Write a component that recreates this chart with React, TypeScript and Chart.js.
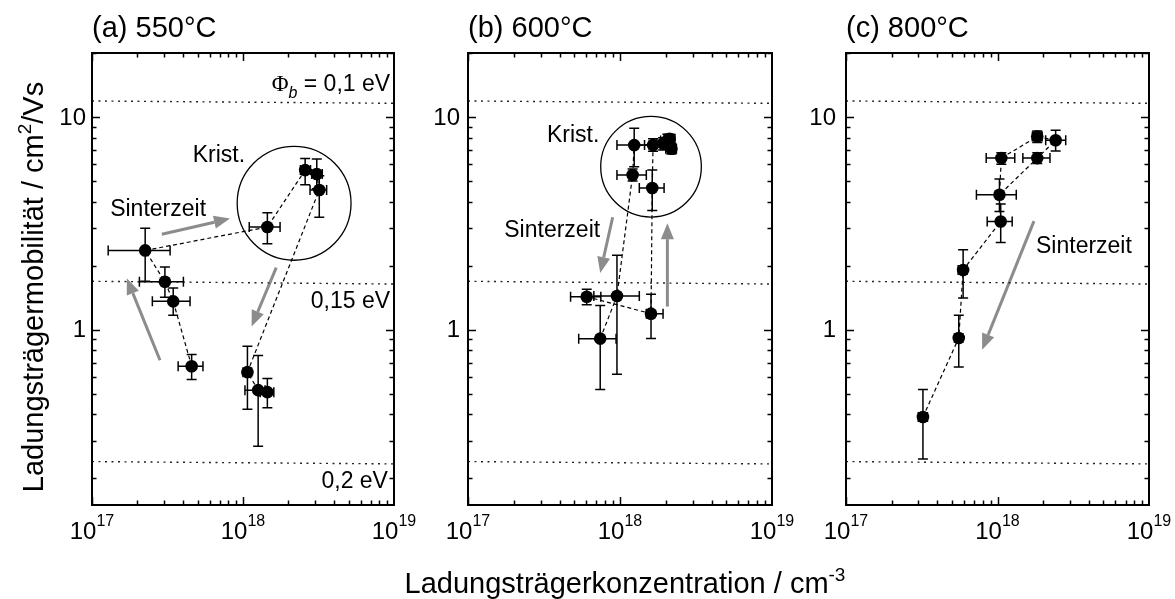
import React, { useEffect, useRef } from 'react';
import { Chart, registerables } from 'chart.js';
Chart.register(...registerables);

const W = 1175;
const H = 599;
const SANS = '"Liberation Sans", Arial, Helvetica, sans-serif';
const SERIF = '"Liberation Serif", "Times New Roman", serif';

// ---------- axes ----------
const X_MIN = 1e17;
const X_MAX = 1e19;
const Y_MIN = 0.15;
const Y_MAX = 20;
const X_MAJOR = [1e17, 1e18, 1e19];
const X_MAJOR_EXP = ['17', '18', '19'];
const Y_MAJOR = [1, 10];
const Y_MAJOR_LABELS = ['1', '10'];

// ---------- barrier height reference lines (Φb = 0.1, 0.15, 0.2 eV) ----------
const BARRIER_X = [1e17, 1e19];
const BARRIER_Y_START = [11.9, 1.69, 0.24];
const BARRIER_Y_END = [11.6, 1.64, 0.234];

// ---------- (a) 550°C ----------
const A_X = [4.57e17, 3.45e17, 3.04e17, 2.25e17, 1.45e18, 2.58e18, 3.08e18, 3.2e18, 1.07e18, 1.26e18, 1.45e18];
const A_Y = [0.674, 1.36, 1.68, 2.36, 3.04, 5.63, 5.4, 4.54, 0.632, 0.52, 0.509];
const A_XLO = [3.72e17, 2.51e17, 2.06e17, 1.28e17, 1.1e18, 2.4e18, 2.85e18, 2.78e18, 1.0e18, 1.03e18, 1.3e18];
const A_XHI = [5.43e17, 4.46e17, 4.03e17, 3.29e17, 1.76e18, 2.8e18, 3.35e18, 3.58e18, 1.14e18, 1.4e18, 1.6e18];
const A_YLO = [0.584, 1.17, 1.42, 1.69, 2.54, 4.81, 4.6, 3.38, 0.423, 0.283, 0.43];
const A_YHI = [0.764, 1.57, 1.97, 3.0, 3.55, 6.38, 6.35, 5.3, 0.836, 0.756, 0.59];
const A_PATH = [0, 1, 2, 3, 4, 5, 6, 7, 8, 9, 10];
const A_ARROWS = [
  [2.9e17, 2.81, 8.2e17, 3.33],
  [2.82e17, 0.719, 1.7e17, 1.745],
  [1.66e18, 1.96, 1.14e18, 1.036],
];

// ---------- (b) 600°C ----------
const B_X = [7.41e17, 9.55e17, 1.21e18, 1.24e18, 1.65e18, 1.92e18, 2.05e18, 2.12e18, 2.18e18, 6.04e17, 1.6e18, 1.63e18];
const B_Y = [0.908, 1.44, 5.34, 7.38, 7.38, 7.5, 7.75, 7.9, 7.1, 1.43, 1.19, 4.64];
const B_XLO = [5.35e17, 6.73e17, 9.55e17, 9.55e17, 1.45e18, 1.75e18, 1.85e18, 1.95e18, 2.0e18, 4.73e17, 1.49e18, 1.34e18];
const B_XHI = [9.42e17, 1.34e18, 1.49e18, 1.56e18, 1.85e18, 2.1e18, 2.25e18, 2.3e18, 2.35e18, 7.48e17, 1.92e18, 1.95e18];
const B_YLO = [0.524, 0.617, 5.0, 5.84, 6.9, 7.0, 7.3, 7.5, 6.7, 1.31, 0.91, 3.64];
const B_YHI = [1.3, 2.24, 5.7, 8.85, 7.9, 8.0, 8.3, 8.3, 7.5, 1.55, 1.47, 5.63];
const B_PATH = [0, 1, 2, 3, 4, 5, 6, 7, 8, -1, 9, 10, 11, 4];
const B_ARROWS = [
  [8.95e17, 3.38, 7.41e17, 1.85],
  [2.05e18, 1.285, 2.05e18, 3.17],
];

// ---------- (c) 800°C ----------
const C_X = [3.22e17, 5.55e17, 5.93e17, 1.05e18, 1.03e18, 1.06e18, 1.83e18, 1.83e18, 2.42e18];
const C_Y = [0.389, 0.914, 1.91, 3.23, 4.31, 6.41, 6.41, 8.09, 7.78];
const C_XLO = [3.0e17, 5.2e17, 5.5e17, 8.55e17, 7.26e17, 8.42e17, 1.47e18, 1.7e18, 2.08e18];
const C_XHI = [3.45e17, 5.9e17, 6.3e17, 1.25e18, 1.33e18, 1.3e18, 2.22e18, 1.97e18, 2.82e18];
const C_YLO = [0.247, 0.669, 1.41, 2.57, 3.6, 6.0, 6.05, 7.6, 6.93];
const C_YHI = [0.524, 1.17, 2.38, 3.9, 5.11, 6.8, 6.8, 8.6, 8.67];
const C_PATH = [0, 1, 2, 3, 4, 5, 7, 8, 6, 4];
const C_ARROWS = [[1.74e18, 3.24, 7.92e17, 0.806]];

type Txt = { t: string; x: number; y: number; align: CanvasTextAlign };
type Panel = {
  title: string;
  left: number;
  right: number;
  xs: number[];
  ys: number[];
  xlo: number[];
  xhi: number[];
  ylo: number[];
  yhi: number[];
  path: number[];
  arrows: number[][];
  circle: null | { x: number; y: number; rDec: number };
  texts: Txt[];
  yLabelGap: number;
  barrierLabels: boolean;
  global: boolean;
};

const TOP = 53;
const BOTTOM = 505;

const PANELS: Panel[] = [
  {
    title: '(a) 550°C', left: 92, right: 394,
    xs: A_X, ys: A_Y, xlo: A_XLO, xhi: A_XHI, ylo: A_YLO, yhi: A_YHI, path: A_PATH, arrows: A_ARROWS,
    circle: { x: 2.18e18, y: 3.93, rDec: 0.377 },
    texts: [
      { t: 'Krist.', x: 6.93e17, y: 6.57, align: 'center' },
      { t: 'Sinterzeit', x: 2.74e17, y: 3.68, align: 'center' },
      { t: '0,15 eV', x: 9.42e18, y: 1.35, align: 'right' },
      { t: '0,2 eV', x: 9.12e18, y: 0.193, align: 'right' },
    ],
    yLabelGap: 6, barrierLabels: true, global: true,
  },
  {
    title: '(b) 600°C', left: 468, right: 772,
    xs: B_X, ys: B_Y, xlo: B_XLO, xhi: B_XHI, ylo: B_YLO, yhi: B_YHI, path: B_PATH, arrows: B_ARROWS,
    circle: { x: 1.6e18, y: 5.84, rDec: 0.331 },
    texts: [
      { t: 'Krist.', x: 4.92e17, y: 8.15, align: 'center' },
      { t: 'Sinterzeit', x: 3.58e17, y: 2.91, align: 'center' },
    ],
    yLabelGap: 8, barrierLabels: false, global: false,
  },
  {
    title: '(c) 800°C', left: 846, right: 1149,
    xs: C_X, ys: C_Y, xlo: C_XLO, xhi: C_XHI, ylo: C_YLO, yhi: C_YHI, path: C_PATH, arrows: C_ARROWS,
    circle: null,
    texts: [{ t: 'Sinterzeit', x: 3.72e18, y: 2.47, align: 'center' }],
    yLabelGap: 10, barrierLabels: false, global: false,
  },
];

function makePlugin(p: Panel) {
  return {
    id: 'panelDecor',
    beforeDatasetsDraw(chart: any) {
      const ctx: CanvasRenderingContext2D = chart.ctx;
      const xs = chart.scales.x;
      const ys = chart.scales.y;
      ctx.save();
      if (p.circle) {
        const cx = xs.getPixelForValue(p.circle.x);
        const cy = ys.getPixelForValue(p.circle.y);
        const r = xs.getPixelForValue(p.circle.x * Math.pow(10, p.circle.rDec)) - cx;
        ctx.strokeStyle = '#000';
        ctx.lineWidth = 1.3;
        ctx.beginPath();
        ctx.arc(cx, cy, r, 0, Math.PI * 2);
        ctx.stroke();
      }
      const col = '#8c8c8c';
      for (const a of p.arrows) {
        const x0 = xs.getPixelForValue(a[0]);
        const y0 = ys.getPixelForValue(a[1]);
        const x1 = xs.getPixelForValue(a[2]);
        const y1 = ys.getPixelForValue(a[3]);
        const ang = Math.atan2(y1 - y0, x1 - x0);
        const hl = 16;
        const hw = 6.5;
        const bx = x1 - hl * Math.cos(ang);
        const by = y1 - hl * Math.sin(ang);
        ctx.strokeStyle = col;
        ctx.lineWidth = 3;
        ctx.beginPath();
        ctx.moveTo(x0, y0);
        ctx.lineTo(bx, by);
        ctx.stroke();
        ctx.fillStyle = col;
        ctx.beginPath();
        ctx.moveTo(x1, y1);
        ctx.lineTo(bx + hw * Math.sin(ang), by - hw * Math.cos(ang));
        ctx.lineTo(bx - hw * Math.sin(ang), by + hw * Math.cos(ang));
        ctx.closePath();
        ctx.fill();
      }
      ctx.restore();
    },
    beforeDatasetDraw(chart: any, args: any) {
      if (args.index !== 0) return;
      const ctx: CanvasRenderingContext2D = chart.ctx;
      const xs = chart.scales.x;
      const ys = chart.scales.y;
      const cap = 5;
      ctx.save();
      ctx.strokeStyle = '#000';
      ctx.lineWidth = 1.5;
      for (let i = 0; i < p.xs.length; i++) {
        const px = xs.getPixelForValue(p.xs[i]);
        const py = ys.getPixelForValue(p.ys[i]);
        const xl = xs.getPixelForValue(p.xlo[i]);
        const xh = xs.getPixelForValue(p.xhi[i]);
        const yl = ys.getPixelForValue(p.ylo[i]);
        const yh = ys.getPixelForValue(p.yhi[i]);
        ctx.beginPath();
        ctx.moveTo(xl, py); ctx.lineTo(xh, py);
        ctx.moveTo(xl, py - cap); ctx.lineTo(xl, py + cap);
        ctx.moveTo(xh, py - cap); ctx.lineTo(xh, py + cap);
        ctx.moveTo(px, yl); ctx.lineTo(px, yh);
        ctx.moveTo(px - cap, yl); ctx.lineTo(px + cap, yl);
        ctx.moveTo(px - cap, yh); ctx.lineTo(px + cap, yh);
        ctx.stroke();
      }
      ctx.restore();
    },
    afterDraw(chart: any) {
      const ctx: CanvasRenderingContext2D = chart.ctx;
      const xs = chart.scales.x;
      const ys = chart.scales.y;
      const a = chart.chartArea;
      ctx.save();
      // frame
      ctx.strokeStyle = '#000';
      ctx.lineWidth = 2;
      ctx.strokeRect(a.left, a.top, a.right - a.left, a.bottom - a.top);
      // inward ticks
      ctx.lineWidth = 1.5;
      ctx.beginPath();
      for (let d = 17; d <= 18; d++) {
        for (let m = 1; m <= 9; m++) {
          const v = m * Math.pow(10, d);
          const px = Math.round(xs.getPixelForValue(v)) + 0.5;
          const len = m === 1 ? 8 : 4.5;
          ctx.moveTo(px, a.bottom); ctx.lineTo(px, a.bottom - len);
          ctx.moveTo(px, a.top); ctx.lineTo(px, a.top + len);
        }
      }
      {
        const px = xs.getPixelForValue(1e19);
        ctx.moveTo(px, a.bottom); ctx.lineTo(px, a.bottom - 8);
        ctx.moveTo(px, a.top); ctx.lineTo(px, a.top + 8);
      }
      for (let d = -1; d <= 1; d++) {
        for (let m = 1; m <= 9; m++) {
          const v = m * Math.pow(10, d);
          if (v < Y_MIN || v > Y_MAX) continue;
          const py = Math.round(ys.getPixelForValue(v)) + 0.5;
          const len = m === 1 ? 8 : 4.5;
          ctx.moveTo(a.left, py); ctx.lineTo(a.left + len, py);
          ctx.moveTo(a.right, py); ctx.lineTo(a.right - len, py);
        }
      }
      ctx.stroke();
      // x tick labels 10^n
      ctx.fillStyle = '#000';
      ctx.textBaseline = 'alphabetic';
      ctx.textAlign = 'left';
      X_MAJOR.forEach((v, i) => {
        const px = xs.getPixelForValue(v);
        ctx.font = `24px ${SANS}`;
        const w1 = ctx.measureText('10').width;
        ctx.font = `16px ${SANS}`;
        const w2 = ctx.measureText(X_MAJOR_EXP[i]).width;
        const x0 = px - (w1 + w2) / 2;
        ctx.font = `24px ${SANS}`;
        ctx.fillText('10', x0, 539);
        ctx.font = `16px ${SANS}`;
        ctx.fillText(X_MAJOR_EXP[i], x0 + w1, 526);
      });
      // y tick labels
      ctx.font = `24px ${SANS}`;
      ctx.textAlign = 'right';
      ctx.textBaseline = 'middle';
      Y_MAJOR.forEach((v, i) => {
        ctx.fillText(Y_MAJOR_LABELS[i], a.left - p.yLabelGap, ys.getPixelForValue(v) + 1);
      });
      // title
      ctx.font = `29px ${SANS}`;
      ctx.textAlign = 'left';
      ctx.textBaseline = 'alphabetic';
      ctx.fillText(p.title, a.left, 37);
      // annotations
      ctx.font = `23px ${SANS}`;
      ctx.textBaseline = 'middle';
      for (const t of p.texts) {
        ctx.textAlign = t.align;
        ctx.fillText(t.t, xs.getPixelForValue(t.x), ys.getPixelForValue(t.y));
      }
      if (p.barrierLabels) {
        // Φb = 0,1 eV, right aligned
        const right = xs.getPixelForValue(9.42e18);
        const base = ys.getPixelForValue(14.4) + 8;
        ctx.textBaseline = 'alphabetic';
        ctx.textAlign = 'left';
        ctx.font = `23px ${SERIF}`;
        const wPhi = ctx.measureText('Φ').width;
        ctx.font = `italic 16px ${SANS}`;
        const wB = ctx.measureText('b').width;
        ctx.font = `23px ${SANS}`;
        const rest = ' = 0,1 eV';
        const wR = ctx.measureText(rest).width;
        let x = right - (wPhi + wB + wR);
        ctx.font = `23px ${SERIF}`;
        ctx.fillText('Φ', x, base);
        x += wPhi;
        ctx.font = `italic 16px ${SANS}`;
        ctx.fillText('b', x, base + 7);
        x += wB;
        ctx.font = `23px ${SANS}`;
        ctx.fillText(rest, x, base);
      }
      if (p.global) {
        // y axis label (rotated)
        ctx.save();
        ctx.translate(43, 287);
        ctx.rotate(-Math.PI / 2);
        const s1 = 'Ladungsträgermobilität / cm';
        const s2 = '2';
        const s3 = '/Vs';
        ctx.font = `29px ${SANS}`;
        const w1 = ctx.measureText(s1).width;
        const w3 = ctx.measureText(s3).width;
        ctx.font = `19px ${SANS}`;
        const w2 = ctx.measureText(s2).width;
        let x = -(w1 + w2 + w3) / 2;
        ctx.textAlign = 'left';
        ctx.textBaseline = 'alphabetic';
        ctx.font = `29px ${SANS}`;
        ctx.fillText(s1, x, 0);
        x += w1;
        ctx.font = `19px ${SANS}`;
        ctx.fillText(s2, x, -12);
        x += w2;
        ctx.font = `29px ${SANS}`;
        ctx.fillText(s3, x, 0);
        ctx.restore();
        // x axis label
        const t1 = 'Ladungsträgerkonzentration / cm';
        const t2 = '-3';
        ctx.font = `29px ${SANS}`;
        const u1 = ctx.measureText(t1).width;
        ctx.font = `19px ${SANS}`;
        const u2 = ctx.measureText(t2).width;
        let xx = 625 - (u1 + u2) / 2;
        ctx.textAlign = 'left';
        ctx.textBaseline = 'alphabetic';
        ctx.font = `29px ${SANS}`;
        ctx.fillText(t1, xx, 593);
        xx += u1;
        ctx.font = `19px ${SANS}`;
        ctx.fillText(t2, xx, 581);
      }
      ctx.restore();
    },
  };
}

function buildConfig(p: Panel): any {
  const points = p.xs.map((x, i) => ({ x, y: p.ys[i] }));
  const pathData = p.path.map((idx, k) =>
    idx < 0 ? { x: p.xs[p.path[k - 1]], y: null } : { x: p.xs[idx], y: p.ys[idx] }
  );
  const barrierSets = BARRIER_Y_START.map((y0, i) => ({
    type: 'line',
    data: [
      { x: BARRIER_X[0], y: y0 },
      { x: BARRIER_X[1], y: BARRIER_Y_END[i] },
    ],
    borderColor: '#222',
    borderWidth: 1.4,
    borderDash: [2, 4.5],
    pointRadius: 0,
    fill: false,
    order: 2,
  }));
  return {
    type: 'scatter',
    data: {
      datasets: [
        {
          type: 'scatter',
          data: points,
          pointRadius: 6.3,
          pointBackgroundColor: '#000',
          pointBorderColor: '#000',
          pointBorderWidth: 0,
          showLine: false,
          order: 0,
        },
        {
          type: 'line',
          data: pathData,
          borderColor: '#000',
          borderWidth: 1.2,
          borderDash: [4, 3],
          pointRadius: 0,
          spanGaps: false,
          tension: 0,
          fill: false,
          order: 1,
        },
        ...barrierSets,
      ],
    },
    options: {
      animation: false,
      responsive: false,
      devicePixelRatio: 1,
      events: [],
      layout: {
        autoPadding: false,
        padding: { left: p.left, right: W - p.right, top: TOP, bottom: H - BOTTOM },
      },
      plugins: { legend: { display: false }, tooltip: { enabled: false }, title: { display: false } },
      scales: {
        x: { type: 'logarithmic', min: X_MIN, max: X_MAX, display: false },
        y: { type: 'logarithmic', min: Y_MIN, max: Y_MAX, display: false },
      },
    },
    plugins: [makePlugin(p)],
  };
}

function PanelChart({ panel }: { panel: Panel }) {
  const ref = useRef<HTMLCanvasElement>(null);
  useEffect(() => {
    if (!ref.current) return;
    const chart = new Chart(ref.current, buildConfig(panel));
    return () => chart.destroy();
  }, [panel]);
  return (
    <canvas
      ref={ref}
      width={W}
      height={H}
      style={{ position: 'absolute', left: 0, top: 0, width: W, height: H }}
    />
  );
}

export default function App() {
  return (
    <div style={{ position: 'fixed', left: 0, top: 0, width: W, height: H, background: '#fff', overflow: 'hidden' }}>
      {PANELS.map((p) => (
        <PanelChart key={p.title} panel={p} />
      ))}
    </div>
  );
}
